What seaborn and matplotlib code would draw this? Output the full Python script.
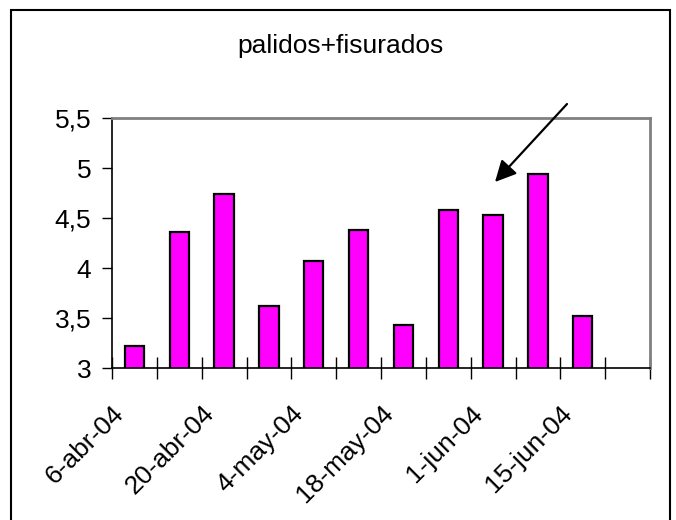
import numpy as np
import pandas as pd
import matplotlib
matplotlib.use("Agg")
import matplotlib.pyplot as plt
import matplotlib.transforms as mtransforms
from matplotlib.patches import Rectangle
import seaborn as sns

# Weekly samples, last slot of the axis has no data
fechas = ["6-abr-04", "13-abr-04", "20-abr-04", "27-abr-04", "4-may-04", "11-may-04",
          "18-may-04", "25-may-04", "1-jun-04", "8-jun-04", "15-jun-04", "22-jun-04"]
valores = [3.22, 4.36, 4.74, 3.62, 4.07, 4.38, 3.43, 4.58, 4.53, 4.94, 3.52]
etiquetas_x = ["6-abr-04", "20-abr-04", "4-may-04", "18-may-04", "1-jun-04", "15-jun-04"]
ticks_y = [3, 3.5, 4, 4.5, 5, 5.5]
etiquetas_y = ["3", "3,5", "4", "4,5", "5", "5,5"]

df = pd.DataFrame({"fecha": fechas[:len(valores)], "valor": valores})

sns.set_style("white")
plt.rcParams["font.family"] = ["Liberation Sans", "DejaVu Sans"]
plt.rcParams["text.color"] = "black"

fig = plt.figure(figsize=(6.76, 5.2), dpi=100)
ax = fig.add_axes([112 / 676, 152 / 520, 538 / 676, 250 / 520])

sns.barplot(data=df, x="fecha", y="valor", order=fechas, color="#FF00FF",
            width=0.43, edgecolor="black", linewidth=1.6, saturation=1, ax=ax)

ax.set_xlim(-0.5, len(fechas) - 0.5)
ax.set_ylim(3, 5.5)
ax.set_yticks(ticks_y)
ax.set_yticklabels(etiquetas_y, fontsize=19)
ax.tick_params(axis="y", direction="out", length=7, width=1, color="black",
               labelcolor="black", pad=8, left=True)

# category boundaries get the tick marks, labels every two weeks
ax.set_xticks(np.arange(-0.5, len(fechas)), minor=True)
ax.tick_params(axis="x", which="minor", direction="inout", length=16, width=1,
               color="black", bottom=True)
ax.set_xticks(range(0, len(fechas), 2))
ax.set_xticklabels(etiquetas_x, fontsize=19, rotation=45, ha="right", va="center",
                   rotation_mode="anchor", color="black")
ax.tick_params(axis="x", which="major", length=0, pad=30)
offset = mtransforms.ScaledTranslation(-14 / 100, 0, fig.dpi_scale_trans)
for lab in ax.get_xticklabels():
    lab.set_transform(lab.get_transform() + offset)

ax.set_xlabel("")
ax.set_ylabel("")
for s in ["left", "bottom"]:
    ax.spines[s].set_color("black")
    ax.spines[s].set_linewidth(1.2)
for s in ["top", "right"]:
    ax.spines[s].set_color("#808080")
    ax.spines[s].set_linewidth(2)

fig.text(340 / 676, 1 - 53 / 520, "palidos+fisurados", fontsize=19, ha="center",
         va="baseline", color="black")

ax.annotate("", xy=(495, 520 - 182), xytext=(567, 520 - 104),
            xycoords="figure pixels", textcoords="figure pixels",
            arrowprops=dict(arrowstyle="-|>", mutation_scale=32, lw=1.6, color="black",
                            shrinkA=0, shrinkB=0))

fig.patches.append(Rectangle((11 / 676, -0.05), 659 / 676, 1.05 - 10 / 520,
                             transform=fig.transFigure, fill=False,
                             edgecolor="black", linewidth=1.5))

fig.savefig("out.png", dpi=100)
